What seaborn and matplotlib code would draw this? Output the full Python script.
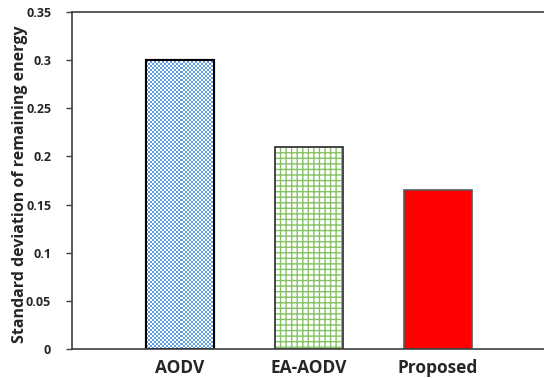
import numpy as np
import pandas as pd
import matplotlib
matplotlib.use("Agg")
import matplotlib.pyplot as plt
import seaborn as sns

protocols = ["AODV", "EA-AODV", "Proposed"]
std_remaining = [0.300, 0.210, 0.165]
ytick_values = [0, 0.05, 0.1, 0.15, 0.2, 0.25, 0.3, 0.35]
ytick_labels = ["0", "0.05", "0.1", "0.15", "0.2", "0.25", "0.3", "0.35"]

sns.set_theme(style="white")
plt.rcParams["font.family"] = ["Open Sans", "DejaVu Sans"]
plt.rcParams["hatch.linewidth"] = 1.0

df = pd.DataFrame({"protocol": protocols, "std": std_remaining})

fig = plt.figure(figsize=(5.44, 3.78), dpi=100)
ax = fig.add_axes([72 / 544, 1 - 349 / 378, 1 - 72 / 544, 337 / 378])

sns.barplot(data=df, x="protocol", y="std", ax=ax, width=0.53,
            color="white", saturation=1)

bars = ax.patches
ax.set_xlim(-0.837, 2.82)
ax.set_ylim(0, 0.35)

# AODV: blue checkerboard fill clipped to the bar
b0 = bars[0]
b0.set_facecolor("white")
b0.set_edgecolor("black")
b0.set_linewidth(1.5)
fig.canvas.draw()
x0, y0 = b0.get_x(), b0.get_y()
w, h = b0.get_width(), b0.get_height()
p0 = ax.transData.transform((x0, y0))
p1 = ax.transData.transform((x0 + w, y0 + h))
px_w = max(2, int(round(abs(p1[0] - p0[0]))))
px_h = max(2, int(round(abs(p1[1] - p0[1]))))
rows = np.arange(px_h) // 2
cols = np.arange(px_w) // 2
checker = (np.add.outer(rows, cols) % 2).astype(float)
cmap = matplotlib.colors.ListedColormap(["#ffffff", "#5e9de0"])
img = ax.imshow(checker, extent=(x0, x0 + w, y0, y0 + h), cmap=cmap,
                aspect="auto", interpolation="nearest",
                zorder=b0.get_zorder() + 0.1, origin="lower")
img.set_clip_path(b0)
outline0 = plt.Rectangle((x0, y0), w, h, fill=False, edgecolor="black",
                         linewidth=1.5, zorder=b0.get_zorder() + 0.2)
ax.add_patch(outline0)

# EA-AODV: green grid hatch
b1 = bars[1]
b1.set_facecolor("white")
b1.set_hatch("+++")
b1.set_edgecolor("#86c266")
b1.set_linewidth(0)
x1, y1b, w1, h1 = b1.get_x(), b1.get_y(), b1.get_width(), b1.get_height()
outline1 = plt.Rectangle((x1, y1b), w1, h1, fill=False, edgecolor="#3a3a3a",
                         linewidth=1.3, zorder=b1.get_zorder() + 0.2)
ax.add_patch(outline1)

# Proposed: solid red
b2 = bars[2]
b2.set_facecolor("#ff0000")
b2.set_edgecolor("#5a5a5a")
b2.set_linewidth(1.2)

ax.set_yticks(ytick_values)
ax.set_yticklabels(ytick_labels, fontsize=9, fontweight="bold")
ax.tick_params(axis="y", direction="out", length=4, width=1, color="#404040",
               pad=11, left=True)
ax.tick_params(axis="x", length=0, pad=7)
for lbl in ax.get_xticklabels():
    lbl.set_fontsize(12.5)
    lbl.set_fontweight("bold")

ax.set_xlabel("")
ax.set_ylabel("Standard deviation of remaining energy", fontsize=11.5,
              fontweight="bold")
ax.yaxis.set_label_coords(-0.093, 0.49)

for side in ["left", "top", "bottom"]:
    ax.spines[side].set_visible(True)
    ax.spines[side].set_color("#404040")
    ax.spines[side].set_linewidth(1.2)
ax.spines["right"].set_visible(False)

fig.savefig("out.png", dpi=100)
